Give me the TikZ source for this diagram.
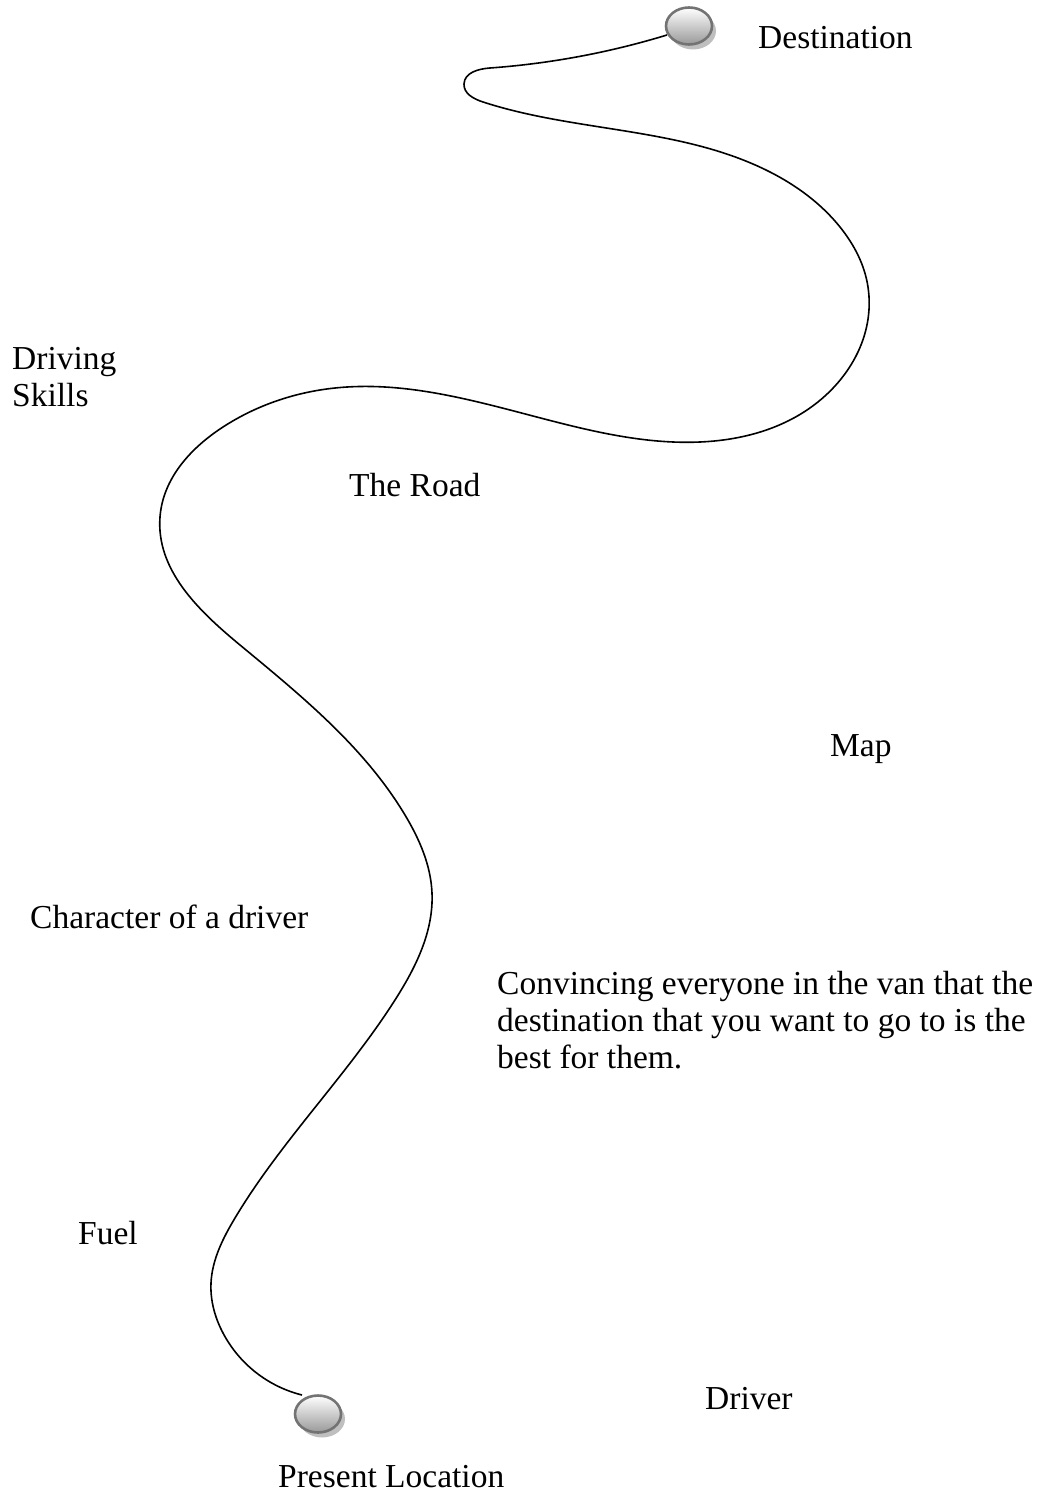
\documentclass[tikz,border=0pt]{standalone}
\usepackage{fontspec}
\setmainfont{Liberation Serif}
\usetikzlibrary{shapes.geometric,hobby}
\begin{document}
\begin{tikzpicture}[x=1pt,y=-1pt,
  label/.style={anchor=base west,inner sep=0pt,font=\fontsize{33.5}{37}\selectfont,text=black},
  stop/.style={ellipse,minimum width=46pt,minimum height=37pt,inner sep=0pt,
    draw=black!55,line width=2.6pt,top color=white,bottom color=black!40},
  stopshadow/.style={ellipse,minimum width=46pt,minimum height=37pt,inner sep=0pt,
    fill=black!25},
  road/.style={line width=1.6pt,black}]
\useasboundingbox (0,0) rectangle (1053,1493);

% shadows under the two stops
\node[stopshadow] at (693,31) {};
\node[stopshadow] at (322,1419) {};

% the road between the two stops
\coordinate (rs) at (302,1395);
\coordinate (re) at (667,35);
\draw[road,use Hobby shortcut] (rs) .. (223,1333) .. (211,1283)
  .. (235,1218) .. (395,1000) .. (432,893) .. (405,815)
  .. (240,645) .. (160,517) .. (223,427) .. (335,388)
  .. (560,423) .. (700,442) .. (807,410) .. (868,287)
  .. (840,227) .. (770,172) .. (483,102)
  .. (464,84) .. (490,68) .. (re);

\node[stop] (start) at (318,1414) {};
\node[stop] (goal) at (689,26) {};

\node[label] (dest) at (758,49) {Destination};
\node[label,align=left] (skills) at (12,406) {Driving\\Skills};
\node[label] (theroad) at (349,496) {The Road};
\node[label] (map) at (830,756) {Map};
\node[label] (character) at (30,928) {Character of a driver};
\node[label,align=left] (convince) at (497,1068) {Convincing everyone in the van that the\\destination that you want to go to is the\\best for them.};
\node[label] (fuel) at (78,1244) {Fuel};
\node[label] (driver) at (705,1409) {Driver};
\node[label] (present) at (278,1487) {Present Location};
\end{tikzpicture}
\end{document}
